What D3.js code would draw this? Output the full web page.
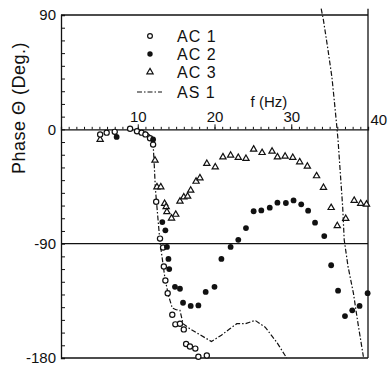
<!DOCTYPE html>
<html>
<head>
<meta charset="utf-8">
<script src="https://cdn.jsdelivr.net/npm/d3@7"></script>
<style>
  body { margin: 0; background: #fff; }
  svg text { font-family: "Liberation Sans", Arial, sans-serif; fill: #111; }
</style>
</head>
<body>
<div id="chart"></div>
<script>
// AC 1 (open circles)
const ac1F = [5.1, 5.95, 7.0, 9.0, 9.9, 10.5, 11.0, 11.6, 12.0, 12.4, 12.9, 13.3, 13.4, 13.6, 13.9, 14.5, 14.9, 15.5, 16.0, 16.3, 16.8, 17.5, 17.9, 19.0];
const ac1P = [-4, -2.6, -2, 0.5, -1.5, -2.6, -4, -7, -12, -57, -86, -93, -108, -119, -129, -146, -153.5, -153, -157.5, -169, -171, -172.6, -179, -178];

// AC 2 (filled circles)
const ac2F = [7.25, 12.0, 13.2, 13.6, 13.8, 14.0, 14.1, 14.85, 15.5, 15.9, 16.9, 17.9, 18.85, 20.0, 20.9, 22.1, 23.1, 24.1, 25.1, 26.1, 27.2, 28.2, 29.3, 30.3, 31.3, 32.2, 33.1, 34.3, 35.2, 36.1, 37.0, 37.95, 38.9, 39.95];
const ac2P = [-6, -8, -73, -79.5, -92.6, -102, -110, -124, -125.5, -136.5, -139, -138.6, -128, -124, -102, -92.6, -87, -77.7, -64.5, -63.8, -61.7, -57.7, -58, -56, -59, -64, -73.5, -84, -107, -127, -147, -142.5, -139, -129];

// AC 3 (open triangles)
const ac3F = [5.1, 12.25, 12.5, 13.0, 13.5, 13.7, 13.8, 14.4, 14.95, 15.5, 16.0, 16.5, 16.9, 17.6, 18.1, 19.0, 20.1, 21.1, 22.1, 23.1, 24.1, 25.1, 26.2, 27.5, 28.2, 29.2, 30.2, 31.1, 32.1, 33.3, 34.2, 35.2, 36.0, 37.1, 38.2, 39.05, 39.8];
const ac3P = [-8, -24.4, -45.4, -45.4, -58.5, -61, -65, -70, -67, -56.7, -53.3, -52.8, -48, -41, -38.3, -27, -29.7, -21.8, -20.5, -22.3, -23, -15.7, -18.4, -17.3, -21.8, -21.3, -22.3, -25.7, -29.1, -36.7, -45.9, -61.7, -76, -70.3, -56, -58.5, -59];

// AS 1 (dash-dot curve, two branches)
const as1aF = [10, 11, 11.6, 12.0, 12.15, 12.3, 12.6, 12.9, 13.2, 13.55, 14.0, 14.5, 15.0, 15.5, 15.9, 16.8, 17.9, 19.6, 20.9, 22.0, 22.9, 24.0, 25.3, 26.6, 28.1, 29.2, 29.4];
const as1aP = [-1, -2, -4.7, -11, -28, -47, -68, -89, -102, -117.6, -130.7, -140.7, -142, -142.5, -153, -157, -161, -167, -162, -157, -153, -153, -150.4, -155.7, -167.5, -178, -180];
const as1bF = [33.9, 34.2, 34.8, 35.3, 35.6, 35.9, 36.1, 36.4, 36.7, 36.9, 37.4, 38.1, 38.7, 39.4];
const as1bP = [95, 85.8, 62, 41, 23, 4.5, -8.7, -35, -61, -87, -108, -129, -153, -179];

const yLabels = [90, 0, -90, -180];
const xLabels = [10, 20, 30, 40];
const legendNames = ['AC 1', 'AC 2', 'AC 3', 'AS 1'];

const W = 391, H = 367;
const svg = d3.select('#chart').append('svg')
  .attr('width', W).attr('height', H);

const x = d3.scaleLinear().domain([0, 40]).range([61, 368]);
const y = d3.scaleLinear().domain([-180, 90]).range([358, 15]);

const ink = '#111';

// frame lines
[90, -90, -180].forEach(v => {
  svg.append('line')
    .attr('x1', x(0)).attr('x2', x(40))
    .attr('y1', y(v)).attr('y2', y(v))
    .attr('stroke', ink).attr('stroke-width', 1.3);
});
// right edge, sticks up a little above the top
svg.append('line')
  .attr('x1', x(40)).attr('x2', x(40))
  .attr('y1', y(95)).attr('y2', y(-180))
  .attr('stroke', ink).attr('stroke-width', 1.3);

// left axis: inward ticks every 10 deg
const yTicks = svg.append('g')
  .attr('transform', `translate(${x(0)},0)`)
  .call(d3.axisRight(y).tickValues(d3.range(-180, 91, 10)).tickSize(4).tickFormat(''));
yTicks.select('.domain').attr('stroke', ink).attr('stroke-width', 1.3);
yTicks.selectAll('.tick line').attr('stroke', ink).attr('stroke-width', 1);

const yLab = svg.append('g')
  .attr('transform', `translate(${x(0)},0)`)
  .call(d3.axisLeft(y).tickValues(yLabels).tickSize(0).tickPadding(5).tickFormat(d => String(d)));
yLab.select('.domain').remove();
yLab.selectAll('text').style('font-size', '15px').attr('fill', ink);

// zero line with frequency ticks
const xMinor = svg.append('g')
  .attr('transform', `translate(0,${y(0)})`)
  .call(d3.axisTop(x).tickValues(d3.range(1, 40)).tickSize(2.5).tickFormat(''));
xMinor.select('.domain').attr('stroke', ink).attr('stroke-width', 1.3);
xMinor.selectAll('.tick line').attr('stroke', ink).attr('stroke-width', 1);

const xMajor = svg.append('g')
  .attr('transform', `translate(0,${y(0)})`)
  .call(d3.axisTop(x).tickValues(xLabels).tickSize(5).tickPadding(2).tickFormat(d => String(d)));
xMajor.select('.domain').remove();
xMajor.selectAll('.tick line').attr('stroke', ink).attr('stroke-width', 1);
xMajor.selectAll('text').style('font-size', '15px').attr('fill', ink);
xMajor.selectAll('.tick').filter(d => d === 40).select('text')
  .attr('text-anchor', 'start').attr('x', 2).attr('y', -4);
xMajor.selectAll('.tick').filter(d => d === 40).select('line').remove();

svg.append('text')
  .attr('x', x(24.7)).attr('y', 107)
  .style('font-size', '15px')
  .text('f (Hz)');

// y title
svg.append('text')
  .attr('transform', `translate(25,108) rotate(-90)`)
  .attr('text-anchor', 'middle')
  .style('font-size', '18px')
  .style('letter-spacing', '0.5px')
  .text('Phase  Θ (Deg.)');

// AS 1 curve
const line = d3.line().x(d => x(d[0])).y(d => y(d[1]));
[[as1aF, as1aP], [as1bF, as1bP]].forEach(([F, P]) => {
  svg.append('path')
    .datum(F.map((f, i) => [f, P[i]]))
    .attr('d', line)
    .attr('fill', 'none')
    .attr('stroke', ink)
    .attr('stroke-width', 1.2)
    .attr('stroke-dasharray', '5,2,1.5,2');
});

// markers
const tri = d3.symbol().type(d3.symbolTriangle).size(17);

svg.append('g').selectAll('path')
  .data(ac3F.map((f, i) => [f, ac3P[i]]))
  .join('path')
  .attr('d', tri)
  .attr('transform', d => `translate(${x(d[0])},${y(d[1])})`)
  .attr('fill', '#fff').attr('stroke', ink).attr('stroke-width', 1.2);

svg.append('g').selectAll('circle')
  .data(ac1F.map((f, i) => [f, ac1P[i]]))
  .join('circle')
  .attr('cx', d => x(d[0])).attr('cy', d => y(d[1])).attr('r', 2.6)
  .attr('fill', '#fff').attr('stroke', ink).attr('stroke-width', 1.2);

svg.append('g').selectAll('circle')
  .data(ac2F.map((f, i) => [f, ac2P[i]]))
  .join('circle')
  .attr('cx', d => x(d[0])).attr('cy', d => y(d[1])).attr('r', 2.9)
  .attr('fill', ink);

// legend
const lg = svg.append('g');
const rowY = [36, 54, 72, 92];
lg.append('circle').attr('cx', 150).attr('cy', rowY[0]).attr('r', 2.4)
  .attr('fill', '#fff').attr('stroke', ink).attr('stroke-width', 1.2);
lg.append('circle').attr('cx', 150).attr('cy', rowY[1]).attr('r', 2.7).attr('fill', ink);
lg.append('path').attr('d', tri).attr('transform', `translate(150,${rowY[2]})`)
  .attr('fill', '#fff').attr('stroke', ink).attr('stroke-width', 1.2);
lg.append('line').attr('x1', 137).attr('x2', 162).attr('y1', rowY[3]).attr('y2', rowY[3])
  .attr('stroke', ink).attr('stroke-width', 1.2).attr('stroke-dasharray', '5,2,1.5,2');
legendNames.forEach((n, i) => {
  lg.append('text').attr('x', 177).attr('y', rowY[i] + 6)
    .style('font-size', '16px')
    .style('letter-spacing', '1px')
    .text(n);
});
</script>
</body>
</html>
